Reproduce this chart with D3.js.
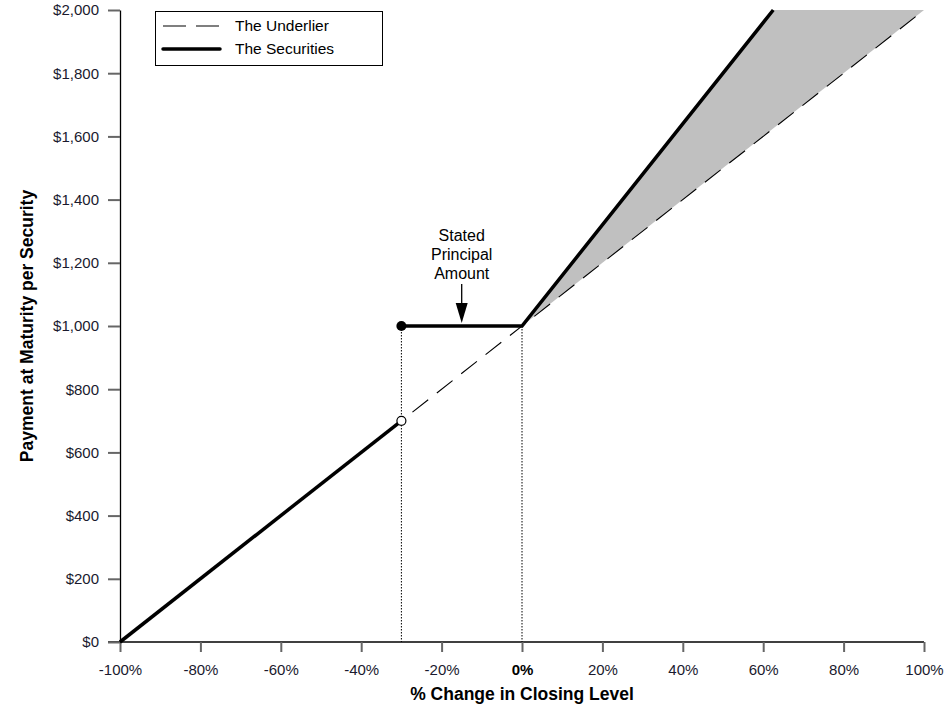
<!DOCTYPE html>
<html>
<head>
<meta charset="utf-8">
<script src="https://cdn.jsdelivr.net/npm/d3@7"></script>
<style>
body { margin: 0; background: #fff; }
text { font-family: "Liberation Sans", Arial, sans-serif; }
</style>
</head>
<body>
<div class="chart"></div>
<script>
const svgWidth = 948
const svgHeight = 715

// data
const xTicks = [-100, -80, -60, -40, -20, 0, 20, 40, 60, 80, 100]
const yTicks = [0, 200, 400, 600, 800, 1000, 1200, 1400, 1600, 1800, 2000]
const underlier = [[-100, 0], [100, 2000]]
const securitiesLow = [[-100, 0], [-30, 700]]
const securitiesHigh = [[-30, 1000], [0, 1000], [62.5, 2000]]
const shaded = [[0, 1000], [62.5, 2000], [100, 2000]]
const barrier = -30
const principal = 1000

let x = d3.scaleLinear().domain([-100, 100]).range([120, 924])
let y = d3.scaleLinear().domain([0, 2000]).range([642, 10])

let svg = d3.select(".chart")
	.append("svg")
	.attr("width", svgWidth)
	.attr("height", svgHeight)

let line = d3.line().x(d => x(d[0])).y(d => y(d[1]))

// shaded area between securities and underlier
svg.append("path")
	.attr("d", line(shaded) + "Z")
	.attr("fill", "#c0c0c0")

// axes
let xAxis = svg.append("g")
	.attr("transform", `translate(0, ${y(0)})`)
	.call(d3.axisBottom(x).tickValues(xTicks).tickSize(10).tickSizeOuter(0).tickFormat(d => d + "%"))
let yAxis = svg.append("g")
	.attr("transform", `translate(${x(-100)}, 0)`)
	.call(d3.axisLeft(y).tickValues(yTicks).tickSize(12).tickSizeOuter(0).tickFormat(d => "$" + d3.format(",")(d)))

xAxis.select(".domain").attr("d", `M${x(-100) - 12},0H${x(100)}`).attr("stroke", "#000").attr("stroke-width", 1.3)
yAxis.select(".domain").attr("stroke", "#000").attr("stroke-width", 1.3)
svg.selectAll(".tick line").attr("stroke", "#666").attr("stroke-width", 2)
xAxis.selectAll(".tick text").attr("y", 22)
yAxis.selectAll(".tick text").attr("x", -21)
svg.selectAll(".tick text")
	.attr("font-size", 15)
	.attr("font-family", "Liberation Sans, Arial, sans-serif")
	.attr("fill", "#1a1a2e")
xAxis.selectAll(".tick text").filter(d => d === 0).attr("font-weight", "bold").attr("fill", "#000")

// axis titles
svg.append("text")
	.attr("x", x(0))
	.attr("y", 700)
	.attr("text-anchor", "middle")
	.attr("font-size", 17.5)
	.attr("font-weight", "bold")
	.text("% Change in Closing Level")

svg.append("text")
	.attr("transform", `translate(33, ${y(1000)}) rotate(-90)`)
	.attr("text-anchor", "middle")
	.attr("font-size", 17.5)
	.attr("font-weight", "bold")
	.text("Payment at Maturity per Security")

// dotted guides
;[[barrier, principal], [0, principal]].forEach(d => {
	svg.append("line")
		.attr("x1", x(d[0])).attr("x2", x(d[0]))
		.attr("y1", y(d[1])).attr("y2", y(0))
		.attr("stroke", "#000")
		.attr("stroke-width", 1)
		.attr("stroke-dasharray", "1.5,1.5")
})

// underlier
svg.append("path")
	.attr("d", line(underlier))
	.attr("fill", "none")
	.attr("stroke", "#000")
	.attr("stroke-width", 1.1)
	.attr("stroke-dasharray", "20,11")

// securities
;[securitiesLow, securitiesHigh].forEach(seg => {
	svg.append("path")
		.attr("d", line(seg))
		.attr("fill", "none")
		.attr("stroke", "#000")
		.attr("stroke-width", 3.5)
})

svg.append("circle")
	.attr("cx", x(barrier)).attr("cy", y(700))
	.attr("r", 4.5)
	.attr("fill", "#fff").attr("stroke", "#000").attr("stroke-width", 1.2)
svg.append("circle")
	.attr("cx", x(barrier)).attr("cy", y(principal))
	.attr("r", 5)
	.attr("fill", "#000")

// annotation
let ax = x(-15)
let note = svg.append("text")
	.attr("text-anchor", "middle")
	.attr("font-size", 16)
;["Stated", "Principal", "Amount"].forEach((t, i) => {
	note.append("tspan").attr("x", ax).attr("y", 241 + i * 19).text(t)
})
svg.append("line")
	.attr("x1", ax).attr("x2", ax)
	.attr("y1", 284).attr("y2", 305)
	.attr("stroke", "#000").attr("stroke-width", 1.3)
svg.append("path")
	.attr("d", `M${ax - 6},303L${ax + 6},303L${ax},${y(principal) - 3}Z`)
	.attr("fill", "#000")

// legend
let legend = svg.append("g")
legend.append("rect")
	.attr("x", 155.5).attr("y", 11.5)
	.attr("width", 227).attr("height", 54)
	.attr("fill", "#fff").attr("stroke", "#000").attr("stroke-width", 1)
legend.append("line")
	.attr("x1", 163).attr("x2", 220).attr("y1", 26).attr("y2", 26)
	.attr("stroke", "#000").attr("stroke-width", 1.1).attr("stroke-dasharray", "23,10")
legend.append("line")
	.attr("x1", 163).attr("x2", 220).attr("y1", 49).attr("y2", 49)
	.attr("stroke", "#000").attr("stroke-width", 3.5).attr("stroke-linecap", "round")
legend.append("text").attr("x", 235).attr("y", 31).attr("font-size", 15.5).text("The Underlier")
legend.append("text").attr("x", 235).attr("y", 54).attr("font-size", 15.5).text("The Securities")
</script>
</body>
</html>
